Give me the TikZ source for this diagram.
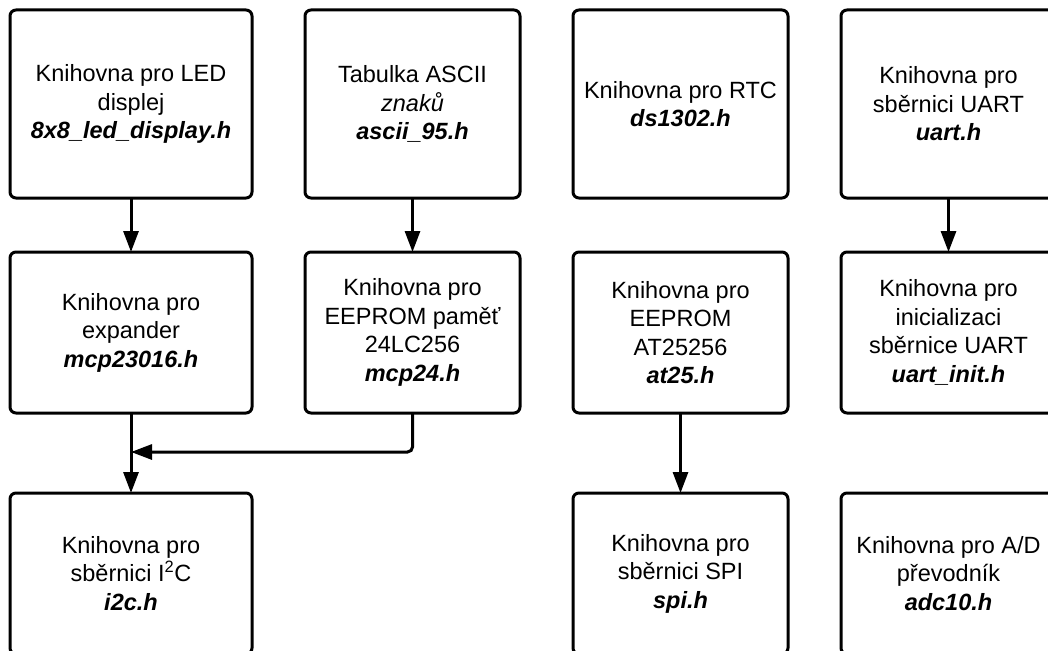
\documentclass[tikz,border=0pt]{standalone}
\usepackage{fontspec}
\setmainfont{Liberation Sans}
\usetikzlibrary{arrows.meta, positioning}

\begin{document}
\begin{tikzpicture}[
    node distance=53pt,
    lib/.style={rectangle, draw, rounded corners=6pt, line width=3pt, outer sep=0pt, minimum width=215pt, minimum height=161pt, align=center, font=\fontsize{23.5pt}{28.5pt}\selectfont},
    tall/.style={minimum height=188pt},
    wide/.style={minimum width=242pt},
    arrow/.style={line width=3pt, -{Triangle[length=21pt, width=15pt]}},
]
    \useasboundingbox (0,0) rectangle (1048pt,-650pt);

    % Top row
    \node[lib, tall, wide, anchor=north west] (led) at (10pt,-10pt) {Knihovna pro LED\\displej\\\textbf{\textit{8x8\_led\_display.h}}};
    \node[lib, tall, right=of led] (ascii) {Tabulka ASCII\\\textit{znaků}\\\textbf{\textit{ascii\_95.h}}};
    \node[lib, tall, right=of ascii] (rtc) {Knihovna pro RTC\\\textbf{\textit{ds1302.h}}};
    \node[lib, tall, right=of rtc] (uart) {Knihovna pro\\sběrnici UART\\\textbf{\textit{uart.h}}};

    % Middle row
    \node[lib, wide, below=54pt of led] (expander) {Knihovna pro\\expander\\\textbf{\textit{mcp23016.h}}};
    \node[lib, below=54pt of ascii] (mcp24) {Knihovna pro\\EEPROM paměť\\24LC256\\\textbf{\textit{mcp24.h}}};
    \node[lib, below=54pt of rtc] (at25) {Knihovna pro\\EEPROM\\AT25256\\\textbf{\textit{at25.h}}};
    \node[lib, below=54pt of uart] (uartinit) {Knihovna pro\\inicializaci\\sběrnice UART\\\textbf{\textit{uart\_init.h}}};

    % Bottom row
    \node[lib, wide, below=80pt of expander] (i2c) {Knihovna pro\\sběrnici I\textsuperscript{2}C\\\textbf{\textit{i2c.h}}};
    \node[lib, below=80pt of at25] (spi) {Knihovna pro\\sběrnici SPI\\\textbf{\textit{spi.h}}};
    \node[lib, below=80pt of uartinit] (adc) {Knihovna pro A/D\\převodník\\\textbf{\textit{adc10.h}}};

    % Dependencies
    \coordinate[below=39pt of expander.south] (join);
    \draw[arrow] (led) -- (expander);
    \draw[arrow] (ascii) -- (mcp24);
    \draw[arrow] (uart) -- (uartinit);
    \draw[arrow] (at25) -- (spi);
    \draw[arrow] (expander) -- (i2c);
    \draw[arrow, rounded corners=5pt] (mcp24) |- (join);
\end{tikzpicture}
\end{document}
